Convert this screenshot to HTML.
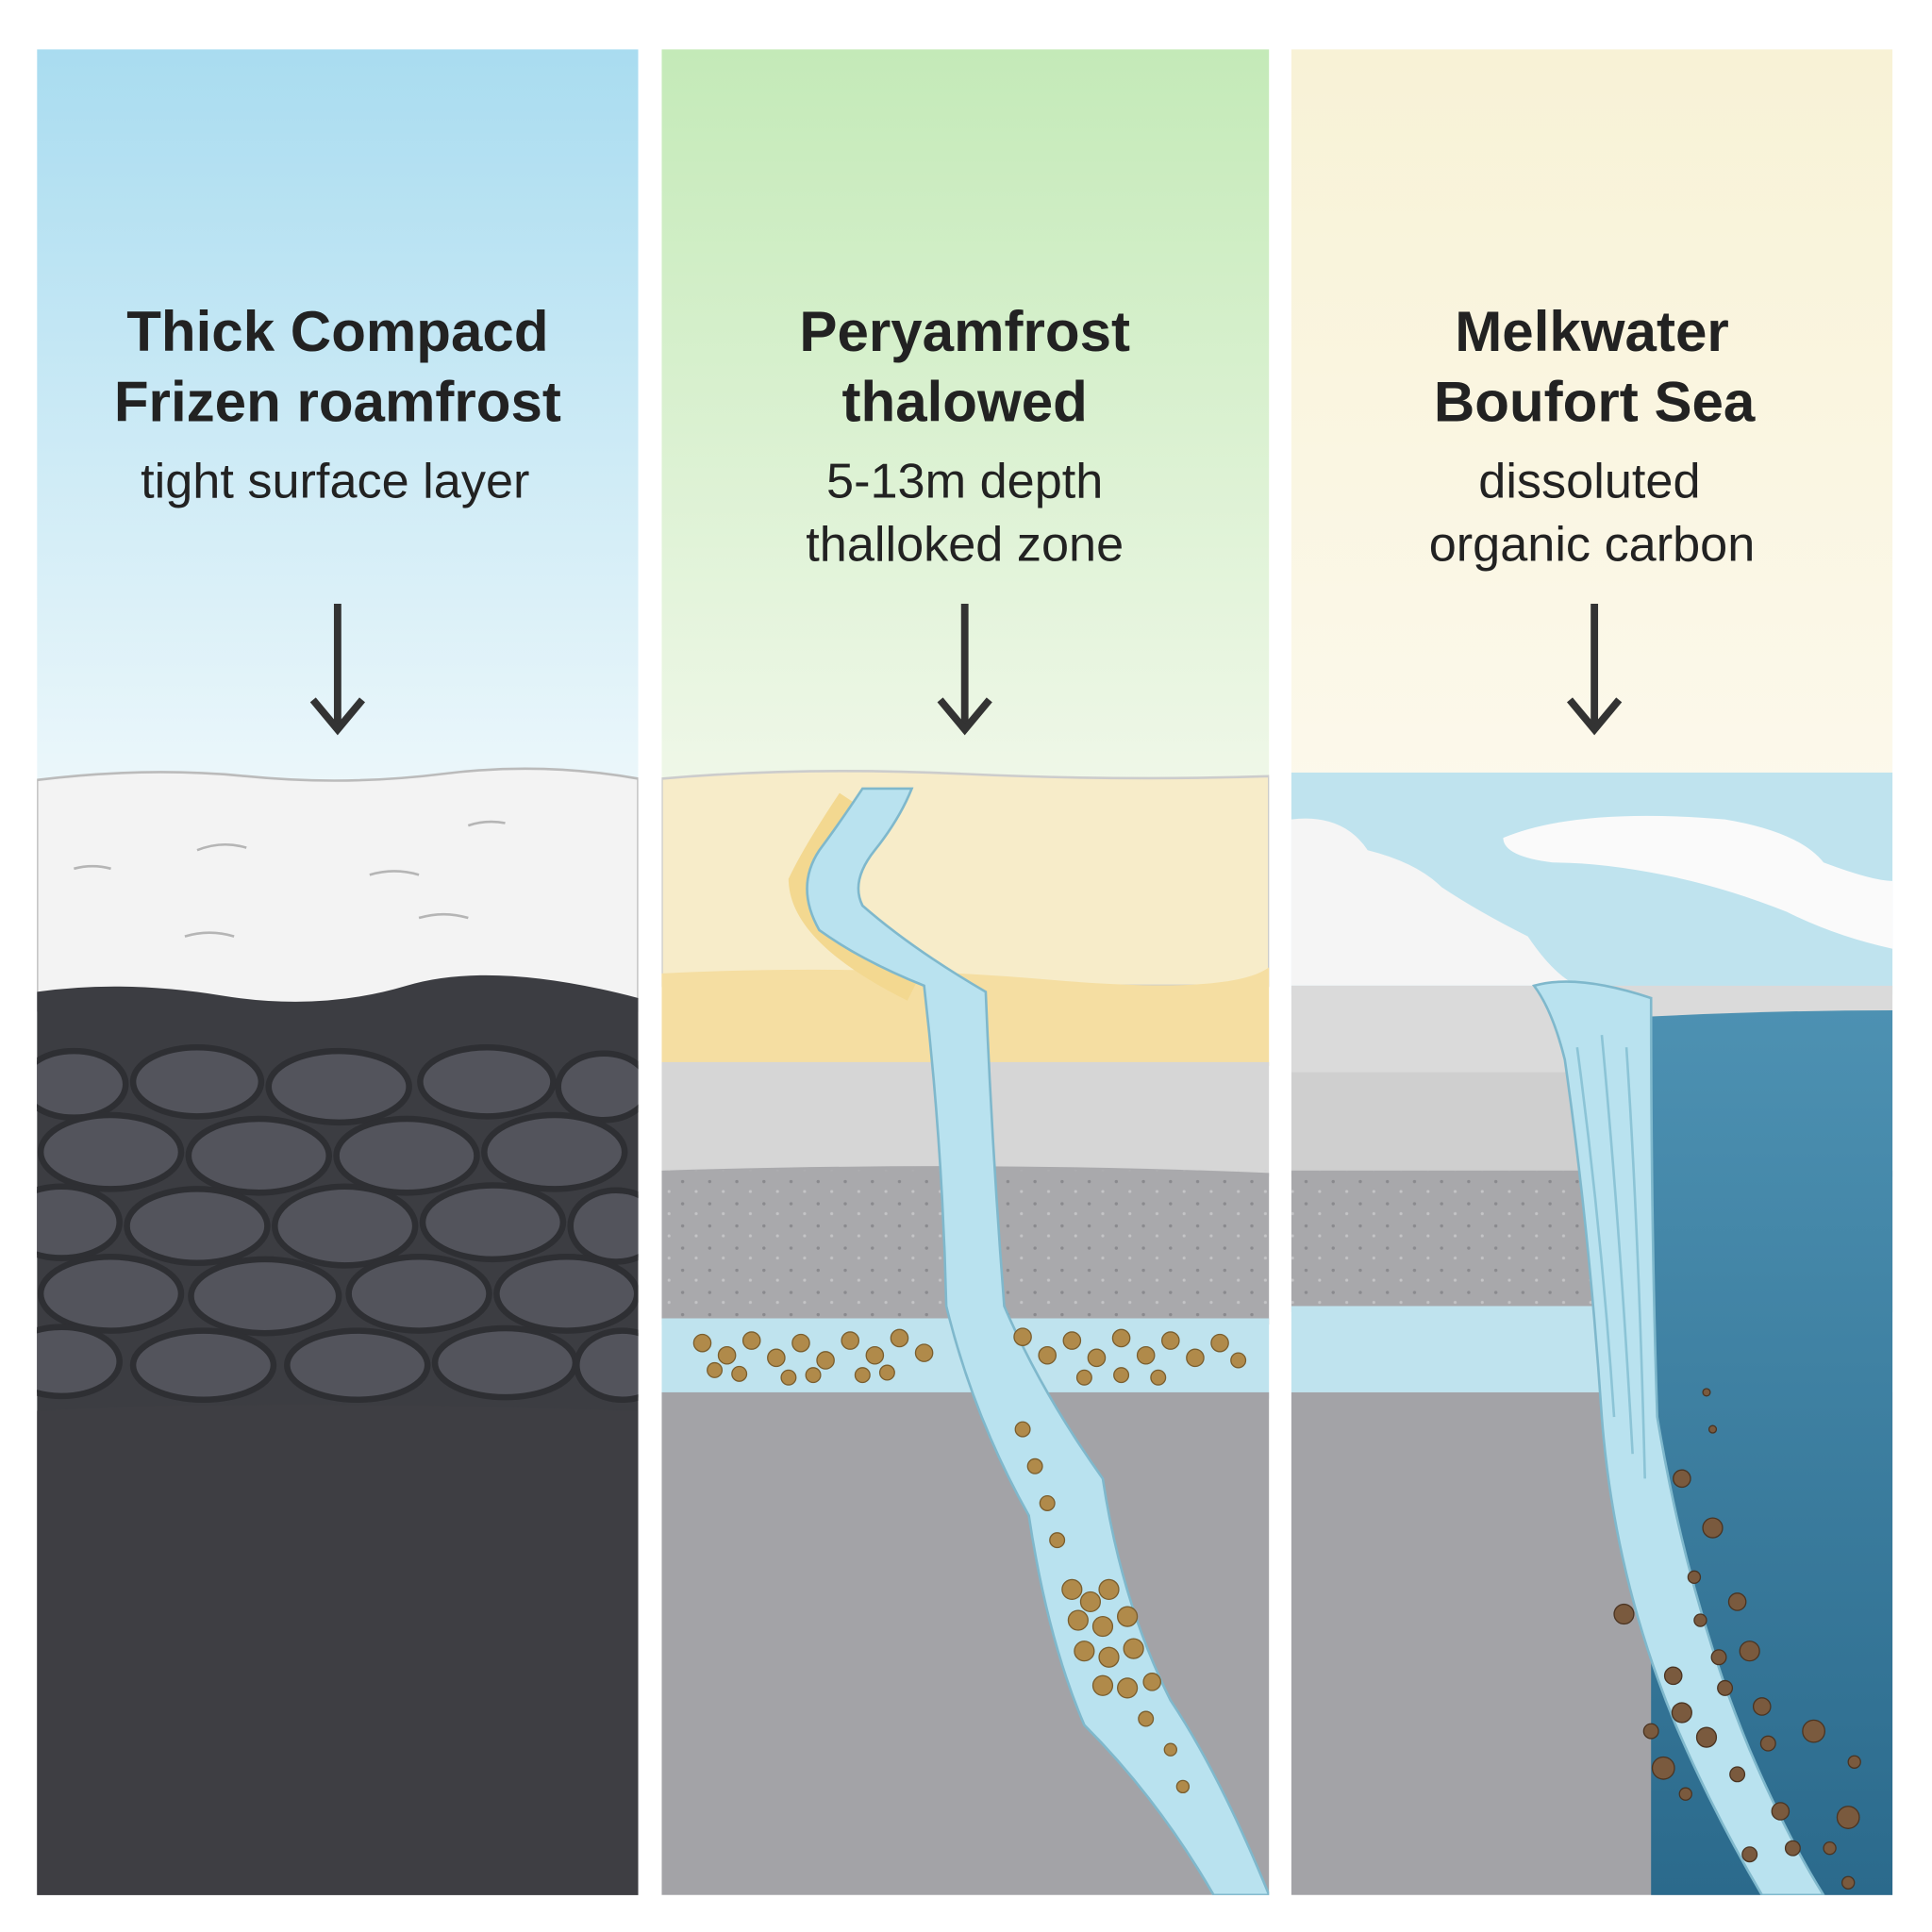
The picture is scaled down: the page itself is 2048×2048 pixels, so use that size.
<!DOCTYPE html>
<html><head><meta charset="utf-8"><style>
html,body{margin:0;padding:0;background:#fff;width:2048px;height:2048px;overflow:hidden}
svg{display:block}
text{font-family:"Liberation Sans",sans-serif;fill:#222;text-anchor:middle}
.t{font-weight:bold;font-size:46px}
.s{font-size:40px}
</style></head><body>
<svg width="2048" height="2048" viewBox="0 0 1568 1568" xmlns="http://www.w3.org/2000/svg">
<defs>
<linearGradient id="g1" x1="0" y1="0" x2="0" y2="1"><stop offset="0" stop-color="#a9dcf0"/><stop offset="1" stop-color="#eef8fb"/></linearGradient>
<linearGradient id="g2" x1="0" y1="0" x2="0" y2="1"><stop offset="0" stop-color="#c4eab8"/><stop offset="1" stop-color="#f1f8ea"/></linearGradient>
<linearGradient id="g3" x1="0" y1="0" x2="0" y2="1"><stop offset="0" stop-color="#f8f2d6"/><stop offset="1" stop-color="#fcf9ec"/></linearGradient>
<linearGradient id="sea" x1="0" y1="0" x2="0" y2="1"><stop offset="0" stop-color="#4d91b2"/><stop offset="1" stop-color="#2b6a8c"/></linearGradient>
<pattern id="dots" width="22" height="18" patternUnits="userSpaceOnUse"><circle cx="4" cy="5" r="1.3" fill="#8a8a8e"/><circle cx="15" cy="13" r="1.2" fill="#c4c4c6"/></pattern>
<clipPath id="c1"><rect x="30" y="40" width="488" height="1498"/></clipPath>
<clipPath id="c2"><rect x="537" y="40" width="493" height="1498"/></clipPath>
<clipPath id="c3"><rect x="1048" y="40" width="488" height="1498"/></clipPath>
</defs>
<!-- Panel 1 -->
<g clip-path="url(#c1)">
<rect x="30" y="40" width="488" height="620" fill="url(#g1)"/>
<path d="M30 633 Q120 622 200 630 T360 628 T518 632 V820 H30Z" fill="#f3f3f3" stroke="#bbb" stroke-width="2"/>
<path d="M30 805 Q100 795 180 808 T330 800 T518 810 V1538 H30Z" fill="#3c3d42"/>
<g fill="#53545c" stroke="#2e2f33" stroke-width="5">
<ellipse cx="60" cy="880" rx="42" ry="27"/><ellipse cx="160" cy="878" rx="52" ry="28"/><ellipse cx="275" cy="882" rx="57" ry="29"/><ellipse cx="395" cy="878" rx="54" ry="28"/><ellipse cx="490" cy="882" rx="37" ry="27"/>
<ellipse cx="90" cy="935" rx="57" ry="30"/><ellipse cx="210" cy="938" rx="57" ry="30"/><ellipse cx="330" cy="938" rx="57" ry="30"/><ellipse cx="450" cy="935" rx="57" ry="30"/>
<ellipse cx="50" cy="992" rx="47" ry="29"/><ellipse cx="160" cy="995" rx="57" ry="30"/><ellipse cx="280" cy="995" rx="57" ry="32"/><ellipse cx="400" cy="992" rx="57" ry="30"/><ellipse cx="500" cy="995" rx="37" ry="29"/>
<ellipse cx="90" cy="1050" rx="57" ry="30"/><ellipse cx="215" cy="1052" rx="60" ry="30"/><ellipse cx="340" cy="1050" rx="57" ry="30"/><ellipse cx="460" cy="1050" rx="57" ry="30"/>
<ellipse cx="50" cy="1105" rx="47" ry="28"/><ellipse cx="165" cy="1108" rx="57" ry="28"/><ellipse cx="290" cy="1108" rx="57" ry="28"/><ellipse cx="410" cy="1106" rx="57" ry="28"/><ellipse cx="505" cy="1108" rx="37" ry="28"/>
</g>
<path d="M30 1145 Q200 1135 518 1145 V1538 H30Z" fill="#3e3e43"/>
<g stroke="#b5b5b5" stroke-width="2" fill="none"><path d="M160 690 q20-8 40-2"/><path d="M380 670 q15-5 30-2"/><path d="M300 710 q20-6 40 0"/><path d="M60 705 q15-4 30 0"/><path d="M340 745 q20-6 40 0"/><path d="M150 760 q20-6 40 0"/></g>
</g>
<!-- Panel 2 -->
<g clip-path="url(#c2)">
<rect x="537" y="40" width="493" height="620" fill="url(#g2)"/>
<path d="M537 632 Q650 622 780 628 T1030 630 V800 H537Z" fill="#f7ecc9" stroke="#ccc" stroke-width="2"/>
<path d="M537 790 Q700 782 850 795 T1030 785 V865 H537Z" fill="#f5dea2"/>
<path d="M537 862 H1030 V955 Q800 945 537 952Z" fill="#d6d6d6"/>
<path d="M537 950 Q800 942 1030 952 V1075 H537Z" fill="#a9a9ac"/>
<rect x="537" y="950" width="493" height="125" fill="url(#dots)"/>
<path d="M537 1070 H1030 V1135 H537Z" fill="#bfe3ee"/>
<rect x="537" y="1130" width="493" height="408" fill="#a3a3a7"/>
<path d="M688 648 Q660 690 648 715 Q650 760 740 805" stroke="#f3d890" stroke-width="16" fill="none"/>
<path d="M700 640 Q680 670 665 690 Q645 720 665 755 Q700 780 750 800 Q765 930 768 1060 Q790 1150 835 1230 Q850 1330 880 1400 Q940 1460 985 1538 H1030 Q990 1440 950 1380 Q910 1300 895 1200 Q845 1130 815 1060 Q805 930 800 805 Q740 770 700 735 Q690 715 710 690 Q730 665 740 640Z" fill="#b9e2ef" stroke="#7fb8cc" stroke-width="2"/>
<g fill="#b08a4a" stroke="#7a5e2e" stroke-width="1">
<circle cx="570" cy="1090" r="7"/><circle cx="590" cy="1100" r="7"/><circle cx="610" cy="1088" r="7"/><circle cx="630" cy="1102" r="7"/><circle cx="650" cy="1090" r="7"/><circle cx="670" cy="1104" r="7"/><circle cx="690" cy="1088" r="7"/><circle cx="710" cy="1100" r="7"/><circle cx="730" cy="1086" r="7"/><circle cx="750" cy="1098" r="7"/><circle cx="600" cy="1115" r="6"/><circle cx="640" cy="1118" r="6"/><circle cx="700" cy="1116" r="6"/><circle cx="580" cy="1112" r="6"/><circle cx="660" cy="1116" r="6"/><circle cx="720" cy="1114" r="6"/>
<circle cx="830" cy="1085" r="7"/><circle cx="850" cy="1100" r="7"/><circle cx="870" cy="1088" r="7"/><circle cx="890" cy="1102" r="7"/><circle cx="910" cy="1086" r="7"/><circle cx="930" cy="1100" r="7"/><circle cx="950" cy="1088" r="7"/><circle cx="970" cy="1102" r="7"/><circle cx="990" cy="1090" r="7"/><circle cx="880" cy="1118" r="6"/><circle cx="940" cy="1118" r="6"/><circle cx="910" cy="1116" r="6"/><circle cx="1005" cy="1104" r="6"/>
<circle cx="830" cy="1160" r="6"/><circle cx="840" cy="1190" r="6"/><circle cx="850" cy="1220" r="6"/><circle cx="858" cy="1250" r="6"/>
<circle cx="870" cy="1290" r="8"/><circle cx="885" cy="1300" r="8"/><circle cx="900" cy="1290" r="8"/><circle cx="875" cy="1315" r="8"/><circle cx="895" cy="1320" r="8"/><circle cx="915" cy="1312" r="8"/><circle cx="880" cy="1340" r="8"/><circle cx="900" cy="1345" r="8"/><circle cx="920" cy="1338" r="8"/><circle cx="895" cy="1368" r="8"/><circle cx="915" cy="1370" r="8"/><circle cx="935" cy="1365" r="7"/><circle cx="930" cy="1395" r="6"/><circle cx="950" cy="1420" r="5"/><circle cx="960" cy="1450" r="5"/>
</g>
</g>
<!-- Panel 3 -->
<g clip-path="url(#c3)">
<rect x="1048" y="40" width="488" height="620" fill="url(#g3)"/>
<rect x="1048" y="627" width="488" height="180" fill="#bfe3ee"/>
<path d="M1048 665 Q1090 660 1110 690 Q1150 700 1170 720 Q1200 740 1240 760 Q1260 790 1280 800 H1048Z" fill="#f5f5f5"/>
<path d="M1220 680 Q1280 655 1400 665 Q1460 675 1480 700 Q1520 715 1536 715 V770 Q1490 760 1450 740 Q1400 720 1350 710 Q1300 700 1260 700 Q1220 695 1220 680Z" fill="#fafafa"/>
<path d="M1048 800 H1536 V870 H1048Z" fill="#dadada"/>
<path d="M1048 870 H1536 V955 H1048Z" fill="#cfcfcf"/>
<rect x="1048" y="950" width="488" height="115" fill="#a8a8ab"/>
<rect x="1048" y="950" width="488" height="115" fill="url(#dots)"/>
<rect x="1048" y="1060" width="488" height="70" fill="#bfe3ee"/>
<rect x="1048" y="1130" width="488" height="408" fill="#a3a3a7"/>
<path d="M1340 825 Q1440 820 1536 820 V1538 H1340Z" fill="url(#sea)"/>
<path d="M1245 800 Q1280 790 1340 810 Q1340 1000 1345 1150 Q1370 1300 1420 1420 Q1450 1490 1480 1538 H1430 Q1390 1470 1360 1400 Q1310 1280 1300 1150 Q1290 1000 1270 860 Q1260 820 1245 800Z" fill="#b9e2ef" stroke="#7fb8cc" stroke-width="2"/>
<g stroke="#8cc4d6" stroke-width="2" fill="none"><path d="M1280 850 Q1300 1000 1310 1150"/><path d="M1300 840 Q1315 1000 1325 1180"/><path d="M1320 850 Q1330 1000 1335 1200"/></g>
<g fill="#7a5a3e" stroke="#4a3422" stroke-width="1">
<circle cx="1385" cy="1130" r="3"/><circle cx="1390" cy="1160" r="3"/><circle cx="1365" cy="1200" r="7"/><circle cx="1390" cy="1240" r="8"/><circle cx="1375" cy="1280" r="5"/><circle cx="1410" cy="1300" r="7"/><circle cx="1318" cy="1310" r="8"/><circle cx="1380" cy="1315" r="5"/><circle cx="1395" cy="1345" r="6"/><circle cx="1420" cy="1340" r="8"/><circle cx="1358" cy="1360" r="7"/><circle cx="1400" cy="1370" r="6"/><circle cx="1365" cy="1390" r="8"/><circle cx="1430" cy="1385" r="7"/><circle cx="1472" cy="1405" r="9"/><circle cx="1385" cy="1410" r="8"/><circle cx="1340" cy="1405" r="6"/><circle cx="1435" cy="1415" r="6"/><circle cx="1350" cy="1435" r="9"/><circle cx="1410" cy="1440" r="6"/><circle cx="1445" cy="1470" r="7"/><circle cx="1500" cy="1475" r="9"/><circle cx="1420" cy="1505" r="6"/><circle cx="1455" cy="1500" r="6"/><circle cx="1485" cy="1500" r="5"/><circle cx="1505" cy="1430" r="5"/><circle cx="1368" cy="1456" r="5"/><circle cx="1500" cy="1528" r="5"/>
</g>
</g>
<!-- Text -->
<text class="t" x="274" y="285">Thick Compacd</text>
<text class="t" x="274" y="342">Frizen roamfrost</text>
<text class="s" x="272" y="404">tight surface layer</text>
<text class="t" x="783" y="285">Peryamfrost</text>
<text class="t" x="783" y="342">thalowed</text>
<text class="s" x="783" y="404">5-13m depth</text>
<text class="s" x="783" y="455">thalloked zone</text>
<text class="t" x="1292" y="285">Melkwater</text>
<text class="t" x="1294" y="342">Boufort Sea</text>
<text class="s" x="1290" y="404">dissoluted</text>
<text class="s" x="1292" y="455">organic carbon</text>
<!-- Arrows -->
<g stroke="#333" stroke-width="6" fill="none">
<path d="M274 490 V590"/><path d="M254 568 L274 592 L294 568"/>
<path d="M783 490 V590"/><path d="M763 568 L783 592 L803 568"/>
<path d="M1294 490 V590"/><path d="M1274 568 L1294 592 L1314 568"/>
</g>
</svg>
</body></html>
